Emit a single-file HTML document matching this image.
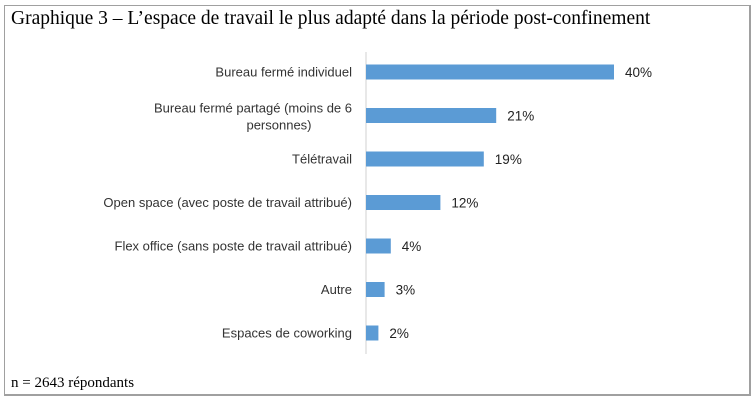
<!DOCTYPE html>
<html><head><meta charset="utf-8"><style>
body{margin:0;background:#fff;width:754px;height:402px;overflow:hidden}
#frame{position:absolute;left:4px;top:5px;width:744px;height:388px;border:1px solid #a0a0a0;border-right:2px solid #a0a0a0;border-bottom:2px solid #a0a0a0}
.t{position:absolute;font-family:"Liberation Serif",serif;color:#000}
</style></head><body>
<div id="frame"></div>
<div class="t" style="left:11px;top:8px;font-size:19.5px">Graphique 3 – L’espace de travail le plus adapté dans la période post-confinement</div>
<div class="t" style="left:11px;top:375px;font-size:15px">n = 2643 répondants</div>
<svg id="chart" width="754" height="402" style="position:absolute;left:0;top:0"></svg>
<script>
const categories=[["Bureau fermé individuel"],["Bureau fermé partagé (moins de 6","personnes)"],["Télétravail"],["Open space (avec poste de travail attribué)"],["Flex office (sans poste de travail attribué)"],["Autre"],["Espaces de coworking"]];
const values=[40,21,19,12,4,3,2];
const valueLabels=["40%","21%","19%","12%","4%","3%","2%"];
const svg=document.getElementById('chart');
const NS='http://www.w3.org/2000/svg';
const x0=366,pxPer=6.2,y0=72,step=43.5,bh=15;
const xs=v=>x0+v*pxPer;
const ys=i=>y0+i*step;
function mk(t,a){const e=document.createElementNS(NS,t);for(const k in a)e.setAttribute(k,a[k]);svg.appendChild(e);return e;}
const ax=mk('line',{x1:x0,x2:x0,y1:52,y2:354,stroke:'#d0d0d0','stroke-width':1});


values.forEach((v,i)=>{
  const cy=ys(i);
  const r=mk('rect',{x:x0,y:cy-bh/2,width:xs(v)-x0,height:bh,fill:'#5b9bd5'});
  
  
  const vt=mk('text',{x:xs(v)+11,y:cy+5,'font-family':'Liberation Sans, sans-serif','font-size':13.5,fill:'#222'});
  vt.textContent=valueLabels[i];
  
  
  const lines=categories[i];
  lines.forEach((ln,j)=>{
    const off=lines.length===1?4.5:(j===0?-3:14);
    const lt=mk('text',{x:lines.length>1&&j===1?279:352,y:cy+off,'text-anchor':lines.length>1&&j===1?'middle':'end','font-family':'Liberation Sans, sans-serif','font-size':13,fill:'#333'});
    lt.textContent=ln;
    
    
  });
});
</script>
</body></html>
